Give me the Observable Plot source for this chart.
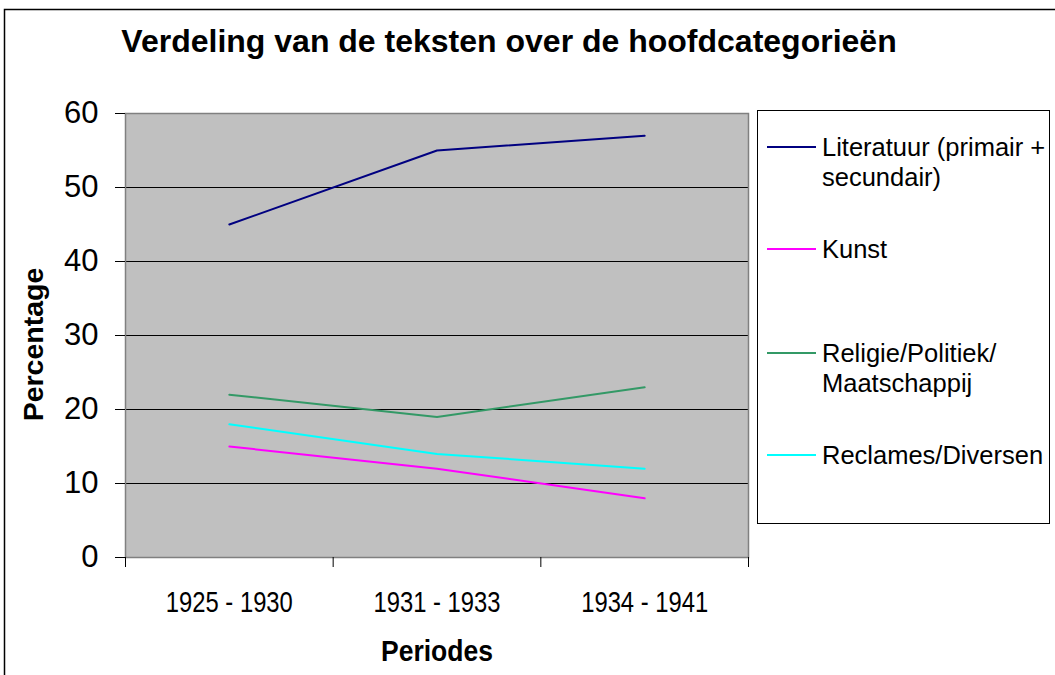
<!DOCTYPE html>
<html>
<head>
<meta charset="utf-8">
<script src="https://cdn.jsdelivr.net/npm/d3@7"></script>
<script src="https://cdn.jsdelivr.net/npm/@observablehq/plot@0.6"></script>
<style>
  html, body { margin: 0; padding: 0; background: white; }
</style>
</head>
<body>
<div id="chart"></div>
<script>
const title = "Verdeling van de teksten over de hoofdcategorieën";
const xLabel = "Periodes";
const yLabel = "Percentage";
const categories = ["1925 - 1930", "1931 - 1933", "1934 - 1941"];
const seriesNames = ["Literatuur (primair + secundair)", "Kunst", "Religie/Politiek/Maatschappij", "Reclames/Diversen"];
const legendLines = [["Literatuur (primair +", "secundair)"], ["Kunst"], ["Religie/Politiek/", "Maatschappij"], ["Reclames/Diversen"]];
const literatuur = [45, 55, 57];
const kunst = [15, 12, 8];
const religie = [22, 19, 23];
const reclames = [18, 14, 12];
const yTicks = [0, 10, 20, 30, 40, 50, 60];
const gridTicks = [10, 20, 30, 40, 50];
const colors = ["#000080", "#FF00FF", "#339966", "#00FFFF"];

const seriesValues = [literatuur, kunst, religie, reclames];
const data = [];
seriesValues.forEach((vals, s) => vals.forEach((v, i) => data.push({series: seriesNames[s], period: categories[i], pos: i + 0.5, value: v})));

const W = 1055, H = 675;
const FONT = "'Liberation Sans', Arial, sans-serif";
const plot = Plot.plot({
  width: W, height: H,
  marginLeft: 125, marginRight: 307, marginTop: 113, marginBottom: 118,
  style: {fontFamily: FONT, background: "white", color: "black", overflow: "visible"},
  x: {type: "linear", domain: [0, categories.length]},
  y: {domain: [0, 60]},
  marks: [
    Plot.frame({fill: "#c0c0c0", stroke: "none"}),
    Plot.gridY(gridTicks, {stroke: "black", strokeOpacity: 1, strokeWidth: 1.2}),
    Plot.frame({stroke: "#808080", strokeWidth: 1.5}),
    ...seriesNames.map((name, s) => Plot.lineY(data.filter(d => d.series === name), {x: "pos", y: "value", stroke: colors[s], strokeWidth: 2})),
    Plot.axisY({ticks: yTicks, tickSize: 10, tickPadding: 17, fontSize: 31, label: null}),
    Plot.axisX({ticks: d3.range(categories.length + 1), tickSize: 10, tickFormat: () => "", label: null}),
    Plot.text(categories, {x: (d, i) => i + 0.5, frameAnchor: "bottom", dy: 54, fontSize: 30, fill: "black"}),
    Plot.text([xLabel], {frameAnchor: "bottom", dy: 103, fontSize: 30, fontWeight: "bold", fill: "black"}),
    Plot.text([yLabel], {frameAnchor: "left", textAnchor: "middle", dx: -92, dy: 9, rotate: -90, fontSize: 28.5, fontWeight: "bold", fill: "black"}),
    Plot.text([title], {frameAnchor: "top", dx: 72, dy: -84, fontSize: 32, fontWeight: "bold", fill: "black"})
  ]
});
document.getElementById("chart").appendChild(plot);

const svg = d3.select(plot);
// condense category labels and x title like the reference rendering
svg.selectAll("text").filter(function () { return categories.includes(this.textContent); })
  .attr("textLength", 127).attr("lengthAdjust", "spacingAndGlyphs");
svg.selectAll("text").filter(function () { return this.textContent === xLabel; })
  .attr("textLength", 112).attr("lengthAdjust", "spacingAndGlyphs");
// outer chart border
svg.append("path").attr("d", `M4.5,${H} V9.5 H${W}`).attr("fill", "none").attr("stroke", "black").attr("stroke-width", 1.5);
// legend
const lg = svg.append("g").attr("font-family", FONT).attr("font-size", 25.5).attr("text-anchor", "start");
lg.append("rect").attr("x", 757.5).attr("y", 110.5).attr("width", 292).attr("height", 413).attr("fill", "white").attr("stroke", "black").attr("stroke-width", 1);
const legendY = [147, 249, 353, 455];
legendLines.forEach((lines, s) => {
  lg.append("line").attr("x1", 767).attr("x2", 816).attr("y1", legendY[s]).attr("y2", legendY[s]).attr("stroke", colors[s]).attr("stroke-width", 2);
  lines.forEach((t, j) => {
    lg.append("text").attr("x", 822).attr("y", legendY[s] + j * 30).attr("dy", "0.36em").attr("text-anchor", "start").attr("fill", "black").text(t);
  });
});
</script>
</body>
</html>
